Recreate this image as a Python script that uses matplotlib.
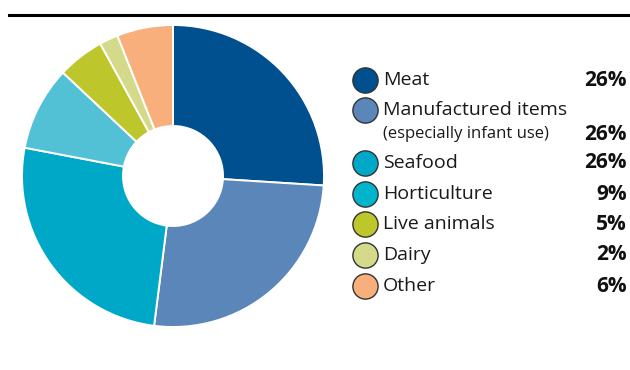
import matplotlib.pyplot as plt

plt.rcParams["font.family"] = ["Open Sans", "DejaVu Sans"]

# Categorias e participações (%)
categorias = ["Meat", "Manufactured items", "Seafood", "Horticulture",
              "Live animals", "Dairy", "Other"]
valores = [26, 26, 26, 9, 5, 2, 6]
rotulos = ["26%", "26%", "26%", "9%", "5%", "2%", "6%"]
cores = ["#00508f", "#5b86b9", "#00a8c8", "#52c1d5", "#bdc62b", "#d5da8b", "#f8af7b"]
# a legenda original usa um ciano mais forte para Horticulture
cores_legenda = ["#00508f", "#5b86b9", "#00a8c8", "#00b4cc", "#bdc62b", "#d5da8b", "#f8af7b"]

W, H = 630, 370
fig = plt.figure(figsize=(W / 100, H / 100), dpi=100)

# Linha superior
linha = fig.add_axes([0, 0, 1, 1])
linha.set_xlim(0, W)
linha.set_ylim(H, 0)
linha.axis("off")
linha.plot([9, W], [15, 15], color="black", lw=2.2)

# Rosca
cx, cy, r = 173, 176, 151
ax = fig.add_axes([(cx - r) / W, 1 - (cy + r) / H, 2 * r / W, 2 * r / H])
ax.pie(valores, colors=cores, startangle=90, counterclock=False, radius=1,
       wedgeprops={"width": 1 - 50 / 151, "edgecolor": "white", "linewidth": 1.4})
ax.set_xlim(-1, 1)
ax.set_ylim(-1, 1)
ax.set_aspect("equal")

# Legenda
ys = [80, 110, 163, 194, 224, 255, 286]
for nome, rot, cor, y in zip(categorias, rotulos, cores_legenda, ys):
    linha.scatter(365, y, s=330, color=cor, edgecolors="#333333", linewidths=1, zorder=3)
    linha.text(383, y, nome, fontsize=14, va="center", ha="left", color="#1a1a1a")
    y_pct = y if nome != "Manufactured items" else 135
    linha.text(627, y_pct, rot, fontsize=15, va="center", ha="right",
               fontweight="bold", color="#111111")
linha.text(383, 134, "(especially infant use)", fontsize=12, va="center",
           ha="left", color="#1a1a1a")

fig.savefig("out.png", dpi=100)
